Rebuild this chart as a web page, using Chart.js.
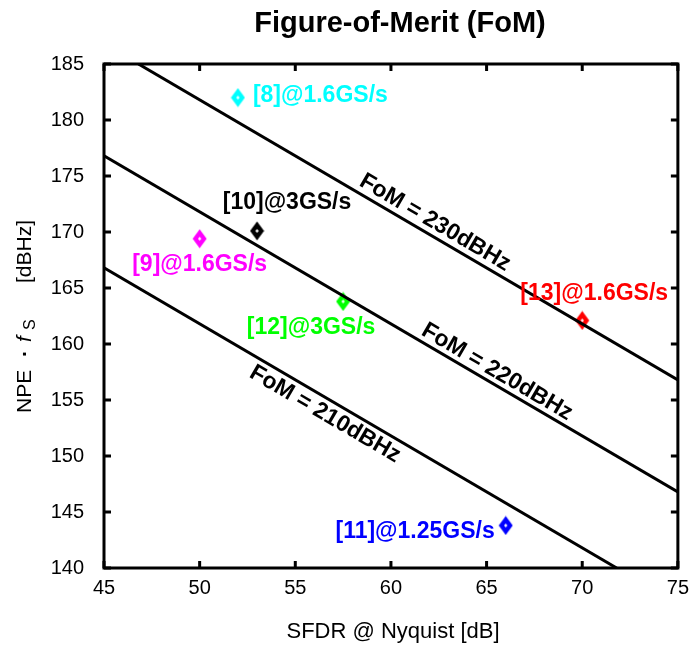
<!DOCTYPE html>
<html>
<head>
<meta charset="utf-8">
<script src="https://cdn.jsdelivr.net/npm/chart.js@4/dist/chart.umd.min.js"></script>
<style>
  html, body { margin: 0; padding: 0; background: #fff; }
  #wrap { width: 697px; height: 649px; }
</style>
</head>
<body>
<div id="wrap"><canvas id="c" width="697" height="649"></canvas></div>
<script>
// ---- data ----
const sfdr = [52, 50, 53, 66, 57.5, 70];               // SFDR @ Nyquist [dB]
const npeFs = [182, 169.4, 170.1, 143.8, 163.8, 162.1]; // NPE·fS [dBHz]
const refLabels = ['[8]@1.6GS/s', '[9]@1.6GS/s', '[10]@3GS/s', '[11]@1.25GS/s', '[12]@3GS/s', '[13]@1.6GS/s'];
const fomLevels = ['FoM = 210dBHz', 'FoM = 220dBHz', 'FoM = 230dBHz'];
const fom210X = [45, 71.8];
const fom210Y = [166.8, 140];
const fom220X = [45, 75];
const fom220Y = [176.8, 146.8];
const fom230X = [46.8, 75];
const fom230Y = [185, 156.8];
const xTicks = [45, 50, 55, 60, 65, 70, 75];
const yTicks = [140, 145, 150, 155, 160, 165, 170, 175, 180, 185];

// ---- styles ----
const pointColors = ['#00FFFF', '#FF00FF', '#000000', '#0000FF', '#00FF00', '#FF0000'];
const labelPlace = [
  {align: 'left', dx: 15, dy: -2},
  {align: 'center', dx: 0, dy: 26},
  {align: 'center', dx: 30, dy: -28},
  {align: 'right', dx: -11, dy: 6},
  {align: 'center', dx: -32, dy: 26},
  {align: 'center', dx: 12, dy: -27}
];
const linePlace = [ {px: 325, dy: 17}, {px: 497, dy: -14}, {px: 435, dy: -15} ];
const FONT = '"Liberation Sans", Arial, Helvetica, sans-serif';

function diamond(color) {
  const c = document.createElement('canvas');
  c.width = 15; c.height = 20;
  const g = c.getContext('2d');
  g.fillStyle = color;
  g.beginPath();
  g.moveTo(7.5, 0.5); g.lineTo(14.5, 10); g.lineTo(7.5, 19.5); g.lineTo(0.5, 10); g.closePath();
  g.fill();
  g.fillStyle = '#fff';
  g.beginPath();
  g.moveTo(7.5, 8); g.lineTo(9.1, 10); g.lineTo(7.5, 12); g.lineTo(5.9, 10); g.closePath();
  g.fill();
  return c;
}

const toXY = (xs, ys) => xs.map((x, i) => ({x: x, y: ys[i]}));
const lineSets = [toXY(fom210X, fom210Y), toXY(fom220X, fom220Y), toXY(fom230X, fom230Y)];

const datasets = lineSets.map(d => ({
  data: d, showLine: true, borderColor: '#000', borderWidth: 3,
  pointRadius: 0, fill: false, tension: 0
}));
datasets.push({
  data: toXY(sfdr, npeFs),
  showLine: false,
  pointStyle: pointColors.map(diamond),
  pointRadius: 8,
  backgroundColor: pointColors, borderColor: pointColors
});

const decor = {
  id: 'decor',
  afterDatasetsDraw(chart) {
    const ctx = chart.ctx;
    const a = chart.chartArea;
    const xs = chart.scales.x, ys = chart.scales.y;
    ctx.save();
    // frame
    ctx.strokeStyle = '#000';
    ctx.lineWidth = 3;
    ctx.strokeRect(a.left, a.top, a.right - a.left, a.bottom - a.top);
    // inward ticks
    const TL = 7;
    xTicks.forEach(v => {
      const p = xs.getPixelForValue(v);
      ctx.beginPath();
      ctx.moveTo(p, a.bottom); ctx.lineTo(p, a.bottom - TL);
      ctx.moveTo(p, a.top); ctx.lineTo(p, a.top + TL);
      ctx.stroke();
    });
    yTicks.forEach(v => {
      const p = ys.getPixelForValue(v);
      ctx.beginPath();
      ctx.moveTo(a.left, p); ctx.lineTo(a.left + TL, p);
      ctx.moveTo(a.right, p); ctx.lineTo(a.right - TL, p);
      ctx.stroke();
    });
    // point labels
    ctx.font = 'bold 23px ' + FONT;
    ctx.textBaseline = 'middle';
    refLabels.forEach((t, i) => {
      const px = xs.getPixelForValue(sfdr[i]);
      const py = ys.getPixelForValue(npeFs[i]);
      ctx.fillStyle = pointColors[i];
      ctx.textAlign = labelPlace[i].align;
      ctx.fillText(t, px + labelPlace[i].dx, py + labelPlace[i].dy);
    });
    // FoM line labels
    ctx.fillStyle = '#000';
    ctx.textAlign = 'center';
    lineSets.forEach((d, i) => {
      const x0 = xs.getPixelForValue(d[0].x), y0 = ys.getPixelForValue(d[0].y);
      const x1 = xs.getPixelForValue(d[1].x), y1 = ys.getPixelForValue(d[1].y);
      const ang = Math.atan2(y1 - y0, x1 - x0);
      const cx = linePlace[i].px;
      const cy = y0 + (cx - x0) * (y1 - y0) / (x1 - x0) + linePlace[i].dy;
      ctx.save();
      ctx.translate(cx, cy);
      ctx.rotate(ang);
      ctx.fillText(fomLevels[i], 0, 0);
      ctx.restore();
    });
    // title
    ctx.font = 'bold 29px ' + FONT;
    ctx.textAlign = 'center';
    ctx.fillText('Figure-of-Merit (FoM)', 400, 24);
    // x axis title
    ctx.font = '22px ' + FONT;
    ctx.fillText('SFDR @ Nyquist [dB]', 393, 632);
    // y axis title: NPE·fS [dBHz]
    ctx.translate(25, 317);
    ctx.rotate(-Math.PI / 2);
    ctx.textAlign = 'left';
    ctx.textBaseline = 'middle';
    const parts = [
      {t: 'NPE', f: '21px ' + FONT, at: -96, dy: 0},
      {t: '\u00B7', f: 'bold 21px ' + FONT, at: -40, dy: 0},
      {t: 'f', f: 'italic 21px ' + FONT, at: -25, dy: 0},
      {t: 'S', f: '16px ' + FONT, at: -13, dy: 6},
      {t: '[dBHz]', f: '21px ' + FONT, at: 34, dy: 0}
    ];
    parts.forEach(p => { ctx.font = p.f; ctx.fillText(p.t, p.at, p.dy); });
    ctx.restore();
  }
};

new Chart(document.getElementById('c'), {
  type: 'scatter',
  data: { datasets: datasets },
  options: {
    responsive: false,
    animation: false,
    events: [],
    layout: { autoPadding: false, padding: { left: 0, right: 15, top: 64, bottom: 0 } },
    plugins: { legend: { display: false }, title: { display: false }, tooltip: { enabled: false } },
    scales: {
      x: {
        type: 'linear', min: 45, max: 75,
        afterBuildTicks: s => { s.ticks = xTicks.map(v => ({value: v})); },
        grid: { display: false, drawTicks: false },
        border: { display: false },
        ticks: { color: '#000', font: { family: FONT, size: 20 }, padding: 8, maxRotation: 0 },
        afterFit: s => { s.height = 81; }
      },
      y: {
        type: 'linear', min: 140, max: 185,
        afterBuildTicks: s => { s.ticks = yTicks.map(v => ({value: v})); },
        grid: { display: false, drawTicks: false },
        border: { display: false },
        ticks: { color: '#000', font: { family: FONT, size: 20 }, padding: 20 },
        afterFit: s => { s.width = 104; }
      }
    }
  },
  plugins: [decor]
});
</script>
</body>
</html>
